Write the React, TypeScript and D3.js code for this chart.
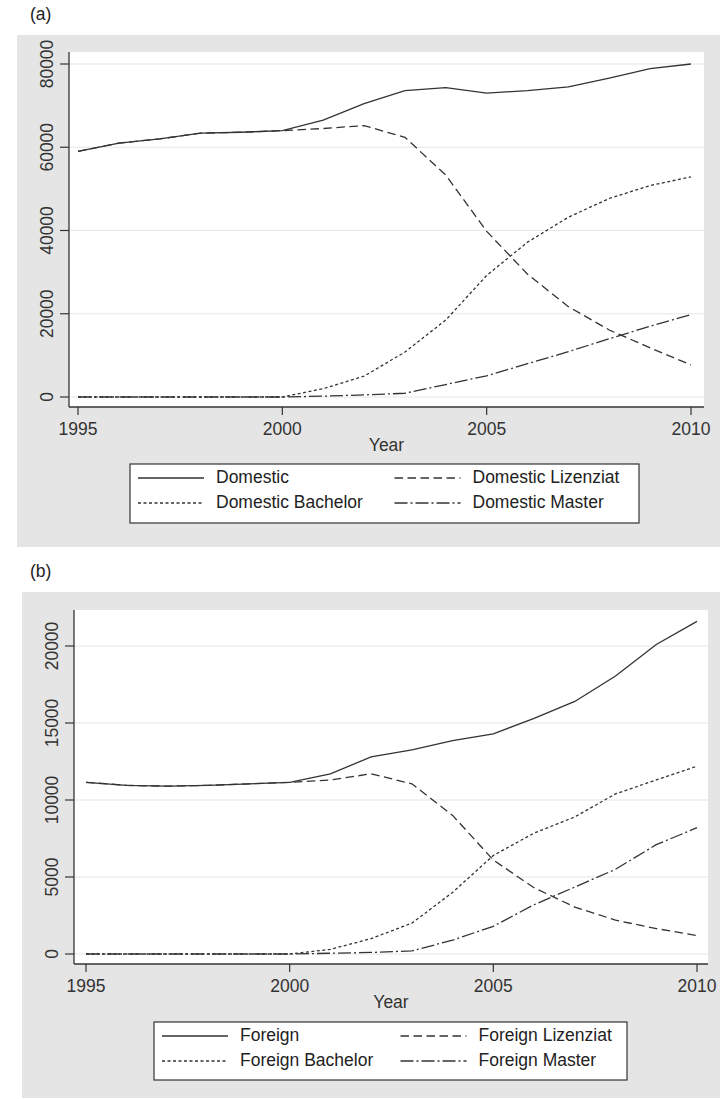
import React from "react";
import * as d3 from "d3";

const years = [1995, 1996, 1997, 1998, 1999, 2000, 2001, 2002, 2003, 2004, 2005, 2006, 2007, 2008, 2009, 2010];

const domestic = [59000, 61000, 62000, 63400, 63600, 64000, 66500, 70500, 73600, 74300, 73000, 73600, 74500, 76600, 78900, 80000];
const domesticLizenziat = [59000, 61000, 62000, 63400, 63600, 64000, 64500, 65200, 62400, 53300, 39800, 29500, 21700, 16100, 11800, 7700];
const domesticBachelor = [0, 0, 0, 0, 0, 0, 2000, 5000, 10800, 18500, 29200, 37200, 43200, 47700, 50800, 52900];
const domesticMaster = [0, 0, 0, 0, 0, 0, 200, 500, 900, 3000, 5100, 8000, 10900, 14000, 17000, 19800];

const foreign = [11150, 10950, 10900, 10950, 11050, 11150, 11700, 12800, 13250, 13850, 14300, 15300, 16400, 18050, 20100, 21600];
const foreignLizenziat = [11150, 10950, 10900, 10950, 11050, 11150, 11300, 11700, 11050, 9000, 6100, 4300, 3050, 2200, 1650, 1200];
const foreignBachelor = [0, 0, 0, 0, 0, 0, 300, 1000, 2000, 4000, 6400, 7850, 8900, 10400, 11300, 12200];
const foreignMaster = [0, 0, 0, 0, 0, 0, 50, 100, 200, 900, 1800, 3200, 4350, 5500, 7100, 8200];

const xTicks = [1995, 2000, 2005, 2010];
const yTicksA = [0, 20000, 40000, 60000, 80000];
const yTicksB = [0, 5000, 10000, 15000, 20000];

const labelsA = ["Domestic", "Domestic Lizenziat", "Domestic Bachelor", "Domestic Master"];
const labelsB = ["Foreign", "Foreign Lizenziat", "Foreign Bachelor", "Foreign Master"];

const dashes = ["none", "8.5,4.5", "3,2.5", "13,3,2,3"];
const INK = "#333";
const FONT = "Liberation Sans, Arial, sans-serif";
const FS = 17.5;

type PanelProps = {
  tag: string;
  series: number[][];
  labels: string[];
  yTicks: number[];
  yMax: number;
  bg: { x: number; y: number; w: number; h: number };
  plot: { l: number; t: number; r: number; b: number };
  xr: [number, number];
  yr: [number, number];
  legend: { x: number; y: number; w: number; h: number };
};

function Panel(p: PanelProps) {
  const x = d3.scaleLinear().domain([1995, 2010]).range(p.xr);
  const y = d3.scaleLinear().domain([0, p.yMax]).range(p.yr);
  const line = d3
    .line<number>()
    .x((_, i) => x(years[i]))
    .y((d) => y(d));
  const lg = p.legend;
  const col1 = lg.x + 8;
  const col2 = lg.x + lg.w / 2 + 10;
  const rowY = [lg.y + 19, lg.y + 44];
  return (
    <g>
      <text x={30} y={p.bg.y - 15} fontSize={FS} fontFamily={FONT} fill="#222">
        {p.tag}
      </text>
      <rect x={p.bg.x} y={p.bg.y} width={p.bg.w} height={p.bg.h} fill="#e5e5e5" />
      <rect x={p.plot.l} y={p.plot.t} width={p.plot.r - p.plot.l} height={p.plot.b - p.plot.t} fill="#fff" />
      {p.yTicks.map((t) => (
        <line key={"g" + t} x1={p.plot.l} x2={p.plot.r} y1={y(t)} y2={y(t)} stroke="#e6e6ee" strokeWidth={1.2} />
      ))}
      {p.series.map((s, i) => (
        <path key={i} d={line(s) || ""} fill="none" stroke={INK} strokeWidth={1.3} strokeDasharray={dashes[i]} />
      ))}
      <line x1={p.plot.l} x2={p.plot.l} y1={p.plot.t} y2={p.plot.b} stroke={INK} strokeWidth={1.3} />
      <line x1={p.plot.l} x2={p.plot.r} y1={p.plot.b} y2={p.plot.b} stroke={INK} strokeWidth={1.3} />
      {p.yTicks.map((t) => (
        <g key={"y" + t}>
          <line x1={p.plot.l - 9} x2={p.plot.l} y1={y(t)} y2={y(t)} stroke={INK} strokeWidth={1.2} />
          <text
            transform={`translate(${p.plot.l - 16},${y(t)}) rotate(-90)`}
            textAnchor="middle"
            fontSize={FS}
            fontFamily={FONT}
            fill="#333"
          >
            {t}
          </text>
        </g>
      ))}
      {xTicks.map((t) => (
        <g key={"x" + t}>
          <line x1={x(t)} x2={x(t)} y1={p.plot.b} y2={p.plot.b + 8} stroke={INK} strokeWidth={1.2} />
          <text x={x(t)} y={p.plot.b + 28} textAnchor="middle" fontSize={FS} fontFamily={FONT} fill="#333">
            {t}
          </text>
        </g>
      ))}
      <text x={(p.plot.l + p.plot.r) / 2} y={p.plot.b + 44} textAnchor="middle" fontSize={FS} fontFamily={FONT} fill="#333">
        Year
      </text>
      <rect x={lg.x} y={lg.y} width={lg.w} height={lg.h} fill="#fff" stroke={INK} strokeWidth={1.2} />
      {p.labels.map((lab, i) => {
        const cx = i % 2 === 0 ? col1 : col2;
        const ry = rowY[Math.floor(i / 2)];
        return (
          <g key={lab}>
            <line x1={cx} x2={cx + 66} y1={ry - 5} y2={ry - 5} stroke={INK} strokeWidth={1.3} strokeDasharray={dashes[i]} />
            <text x={cx + 78} y={ry} fontSize={FS} fontFamily={FONT} fill="#222">
              {lab}
            </text>
          </g>
        );
      })}
    </g>
  );
}

export default function App() {
  return (
    <svg width={720} height={1099} style={{ position: "absolute", left: 0, top: 0, background: "#fff" }}>
      <Panel
        tag="(a)"
        series={[domestic, domesticLizenziat, domesticBachelor, domesticMaster]}
        labels={labelsA}
        yTicks={yTicksA}
        yMax={80000}
        bg={{ x: 17, y: 35, w: 703, h: 512 }}
        plot={{ l: 69, t: 52, r: 704, b: 407 }}
        xr={[78, 691]}
        yr={[397, 64]}
        legend={{ x: 130, y: 464, w: 509, h: 59 }}
      />
      <Panel
        tag="(b)"
        series={[foreign, foreignLizenziat, foreignBachelor, foreignMaster]}
        labels={labelsB}
        yTicks={yTicksB}
        yMax={20000}
        bg={{ x: 22, y: 592, w: 698, h: 506 }}
        plot={{ l: 74, t: 610, r: 708, b: 964 }}
        xr={[86, 697]}
        yr={[954, 646]}
        legend={{ x: 154, y: 1022, w: 473, h: 58 }}
      />
    </svg>
  );
}
